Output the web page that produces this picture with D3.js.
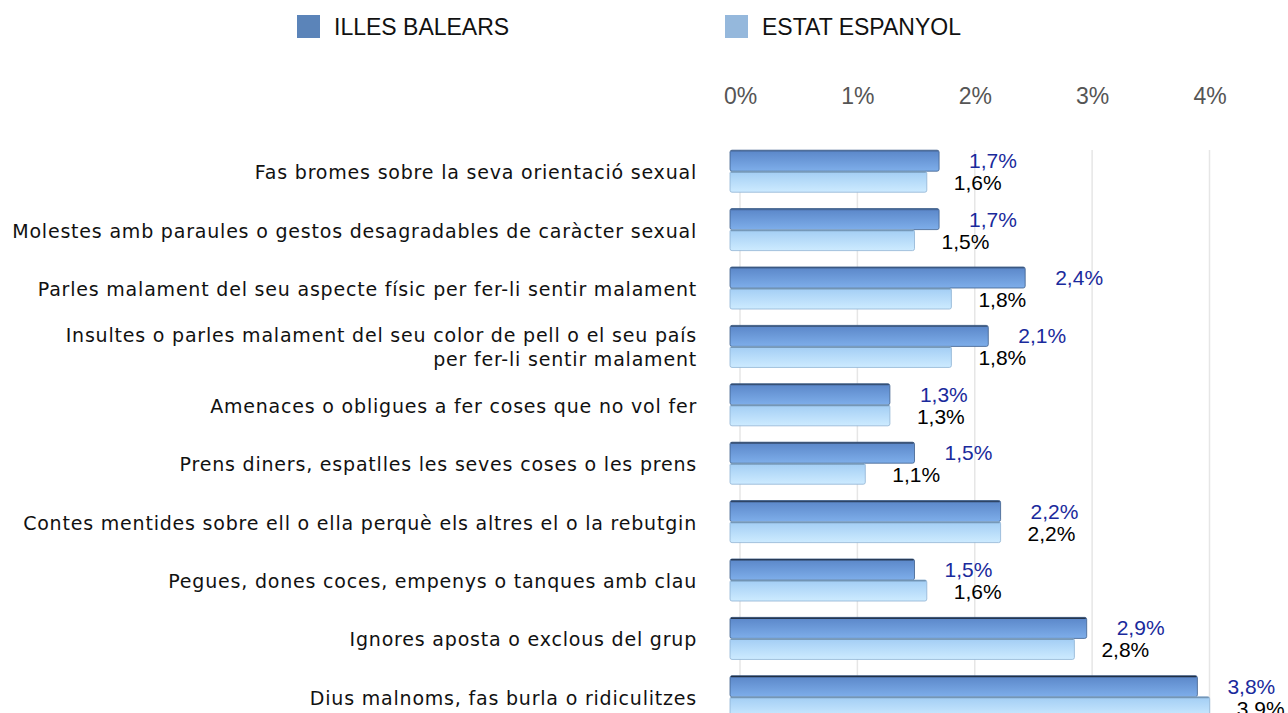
<!DOCTYPE html>
<html>
<head>
<meta charset="utf-8">
<script src="https://cdn.jsdelivr.net/npm/d3@7"></script>
<style>
  body { margin: 0; background: #fff; }
  svg { display: block; }
  .tick text { fill: #555; }
</style>
</head>
<body>
<div id="plot"></div>
<script>
var categories = [
  ['Fas bromes sobre la seva orientació sexual'],
  ['Molestes amb paraules o gestos desagradables de caràcter sexual'],
  ['Parles malament del seu aspecte físic per fer-li sentir malament'],
  ['Insultes o parles malament del seu color de pell o el seu país', 'per fer-li sentir malament'],
  ['Amenaces o obligues a fer coses que no vol fer'],
  ['Prens diners, espatlles les seves coses o les prens'],
  ['Contes mentides sobre ell o ella perquè els altres el o la rebutgin'],
  ['Pegues, dones coces, empenys o tanques amb clau'],
  ['Ignores aposta o exclous del grup'],
  ['Dius malnoms, fas burla o ridiculitzes']
];
var illesBalears = [1.7, 1.7, 2.4, 2.1, 1.3, 1.5, 2.2, 1.5, 2.9, 3.8];
var estatEspanyol = [1.6, 1.5, 1.8, 1.8, 1.3, 1.1, 2.2, 1.6, 2.8, 3.9];
var seriesNames = ['ILLES BALEARS', 'ESTAT ESPANYOL'];
var tickValues = [0, 1, 2, 3, 4];

var W = 1288, H = 713;
var fmt = function(v) { return v.toFixed(1).replace('.', ',') + '%'; };

var svg = d3.select('#plot').append('svg')
  .attr('width', W).attr('height', H);

var defs = svg.append('defs');
var g1 = defs.append('linearGradient').attr('id', 'gIB').attr('x1', 0).attr('y1', 0).attr('x2', 0).attr('y2', 1);
g1.append('stop').attr('offset', '0%').attr('stop-color', '#5a86c8');
g1.append('stop').attr('offset', '100%').attr('stop-color', '#7eaeea');
var g2 = defs.append('linearGradient').attr('id', 'gES').attr('x1', 0).attr('y1', 0).attr('x2', 0).attr('y2', 1);
g2.append('stop').attr('offset', '0%').attr('stop-color', '#a2cdf4');
g2.append('stop').attr('offset', '100%').attr('stop-color', '#cdebff');

// back wall scale (grid + axis) and front scale (bars)
var xWall = d3.scaleLinear().domain([0, 4]).range([740, 1209.5]);
var x = d3.scaleLinear().domain([0, 4]).range([730, 1222]);

var y = d3.scaleBand().domain(d3.range(categories.length))
  .range([142, 726]).paddingInner(0.28).paddingOuter(0.14);
var ySub = d3.scaleBand().domain([0, 1]).range([0, y.bandwidth()]);

// grid lines
svg.append('g').selectAll('line').data(tickValues).join('line')
  .attr('x1', function(d) { return xWall(d); })
  .attr('x2', function(d) { return xWall(d); })
  .attr('y1', 150).attr('y2', H)
  .attr('stroke', '#e6e6e6').attr('stroke-width', 1.5);

// axis on top
var xAxis = d3.axisTop(xWall).tickValues(tickValues).tickSize(0)
  .tickFormat(function(d) { return d + '%'; });
var ax = svg.append('g').attr('transform', 'translate(0,104)').call(xAxis);
ax.select('.domain').remove();
ax.selectAll('text')
  .attr('font-family', 'Liberation Sans, Arial, sans-serif')
  .attr('font-size', 23).attr('dy', 0).attr('y', 0);

// legend
var legColors = ['#5b84b9', '#95b8dc'];
var legX = [297, 725];
var leg = svg.append('g').selectAll('g').data(seriesNames).join('g')
  .attr('transform', function(d, i) { return 'translate(' + legX[i] + ',15)'; });
leg.append('rect').attr('width', 23).attr('height', 23)
  .attr('fill', function(d, i) { return legColors[i]; });
leg.append('text').attr('x', 37).attr('y', 20)
  .attr('font-family', 'Liberation Sans Narrow, Liberation Sans, Arial, sans-serif')
  .attr('font-size', 23).attr('fill', '#111')
  .text(function(d) { return d; });

// rows
var rows = svg.append('g').selectAll('g').data(categories).join('g')
  .attr('transform', function(d, i) { return 'translate(0,' + y(i) + ')'; });

// category labels
rows.append('text')
  .attr('text-anchor', 'end')
  .attr('font-family', 'DejaVu Sans, sans-serif')
  .attr('font-size', 19).attr('fill', '#111')
  .attr('letter-spacing', 0.8)
  .each(function(d) {
    var t = d3.select(this);
    var c = y.bandwidth() / 2;
    d.forEach(function(line, k) {
      t.append('tspan').attr('x', 697)
        .attr('y', d.length > 1 ? c - 4 + k * 24 : c + 8)
        .text(line);
    });
  });

var series = [
  { vals: illesBalears, fill: 'url(#gIB)', stroke: '#3f5f8c', top: '#1e2c40', label: '#1a2a9c', dx: 30, dy: -3 },
  { vals: estatEspanyol, fill: 'url(#gES)', stroke: '#8fb3d3', top: '#4a6580', label: '#000', dx: 27, dy: 19 }
];

series.forEach(function(s, si) {
  rows.append('rect')
    .attr('x', x(0))
    .attr('y', ySub(si))
    .attr('width', function(d, i) { return x(s.vals[i]) - x(0); })
    .attr('height', ySub.bandwidth())
    .attr('rx', 2)
    .attr('fill', s.fill)
    .attr('stroke', s.stroke).attr('stroke-width', 0.8);
  rows.append('line')
    .attr('x1', x(0) + 1)
    .attr('x2', function(d, i) { return x(s.vals[i]) - 1; })
    .attr('y1', ySub(si) + 0.8).attr('y2', ySub(si) + 0.8)
    .attr('stroke', s.top)
    .attr('stroke-opacity', function(d, i) { return si === 0 ? 0.25 + i * 0.08 : 0.5; })
    .attr('stroke-width', 1.5);
  rows.append('text')
    .attr('x', function(d, i) { return x(s.vals[i]) + s.dx; })
    .attr('y', y.bandwidth() / 2 + s.dy)
    .attr('font-family', 'Liberation Sans, Arial, sans-serif')
    .attr('font-size', 21)
    .attr('fill', s.label)
    .text(function(d, i) { return fmt(s.vals[i]); });
});
</script>
</body>
</html>
